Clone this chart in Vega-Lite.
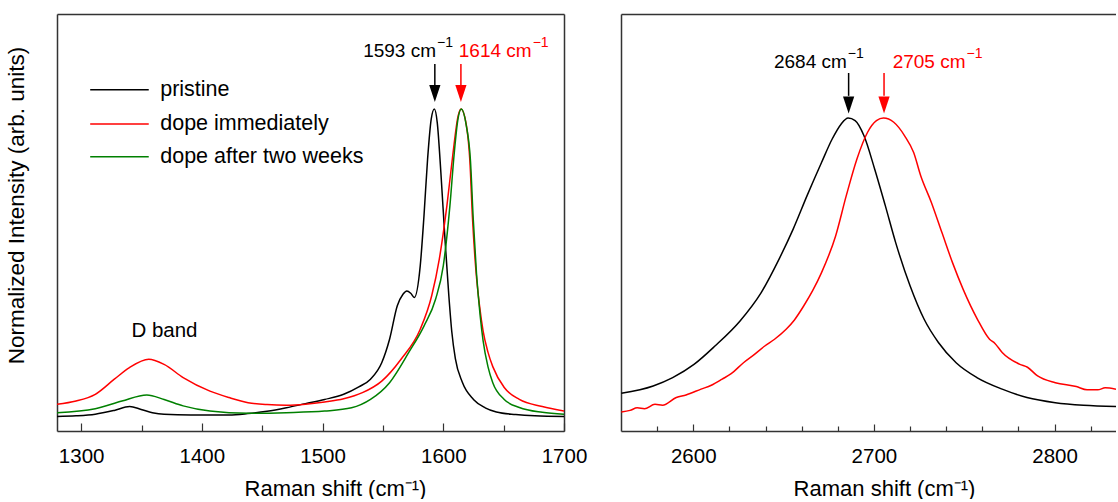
{
  "$schema": "https://vega.github.io/schema/vega-lite/v6.json",
  "padding": {"left": 5, "top": 14, "right": 0, "bottom": 0},
  "bounds": "flush",
  "spacing": 57,
  "config": {
    "font": "Liberation Sans",
    "view": {"stroke": null},
    "axis": {"grid": false, "domainColor": "#333", "domainWidth": 1.5, "tickColor": "#333", "tickWidth": 1.2, "labelColor": "#000", "titleColor": "#000", "labelFont": "Liberation Sans", "titleFont": "Liberation Sans", "titleFontWeight": "normal"}
  },
  "datasets": {
    "spectra": [
      {"panel":"G","series":"pristine","x":1280,"y":0.045},
      {"panel":"G","series":"pristine","x":1295.8,"y":0.047},
      {"panel":"G","series":"pristine","x":1311.7,"y":0.052},
      {"panel":"G","series":"pristine","x":1327.5,"y":0.064},
      {"panel":"G","series":"pristine","x":1340.2,"y":0.076},
      {"panel":"G","series":"pristine","x":1349.7,"y":0.067},
      {"panel":"G","series":"pristine","x":1359,"y":0.057},
      {"panel":"G","series":"pristine","x":1368.7,"y":0.052},
      {"panel":"G","series":"pristine","x":1390.8,"y":0.05},
      {"panel":"G","series":"pristine","x":1422.5,"y":0.05},
      {"panel":"G","series":"pristine","x":1438,"y":0.054},
      {"panel":"G","series":"pristine","x":1454,"y":0.061},
      {"panel":"G","series":"pristine","x":1470,"y":0.072},
      {"panel":"G","series":"pristine","x":1485.8,"y":0.085},
      {"panel":"G","series":"pristine","x":1501.7,"y":0.098},
      {"panel":"G","series":"pristine","x":1517.5,"y":0.114},
      {"panel":"G","series":"pristine","x":1530,"y":0.137},
      {"panel":"G","series":"pristine","x":1539.7,"y":0.161},
      {"panel":"G","series":"pristine","x":1549,"y":0.212},
      {"panel":"G","series":"pristine","x":1555.5,"y":0.285},
      {"panel":"G","series":"pristine","x":1561.9,"y":0.389},
      {"panel":"G","series":"pristine","x":1566.6,"y":0.425},
      {"panel":"G","series":"pristine","x":1569.8,"y":0.435},
      {"panel":"G","series":"pristine","x":1573,"y":0.428},
      {"panel":"G","series":"pristine","x":1576,"y":0.415},
      {"panel":"G","series":"pristine","x":1580.9,"y":0.513},
      {"panel":"G","series":"pristine","x":1584,"y":0.668},
      {"panel":"G","series":"pristine","x":1587,"y":0.845},
      {"panel":"G","series":"pristine","x":1590,"y":0.969},
      {"panel":"G","series":"pristine","x":1592.6,"y":1.0},
      {"panel":"G","series":"pristine","x":1595,"y":0.958},
      {"panel":"G","series":"pristine","x":1598,"y":0.803},
      {"panel":"G","series":"pristine","x":1601.4,"y":0.596},
      {"panel":"G","series":"pristine","x":1604.6,"y":0.42},
      {"panel":"G","series":"pristine","x":1607,"y":0.31},
      {"panel":"G","series":"pristine","x":1610,"y":0.225},
      {"panel":"G","series":"pristine","x":1615.7,"y":0.152},
      {"panel":"G","series":"pristine","x":1625,"y":0.098},
      {"panel":"G","series":"pristine","x":1634.7,"y":0.072},
      {"panel":"G","series":"pristine","x":1644,"y":0.059},
      {"panel":"G","series":"pristine","x":1660,"y":0.051},
      {"panel":"G","series":"pristine","x":1675.9,"y":0.047},
      {"panel":"G","series":"pristine","x":1700,"y":0.045},

      {"panel":"G","series":"dope immediately","x":1280,"y":0.083},
      {"panel":"G","series":"dope immediately","x":1295.8,"y":0.093},
      {"panel":"G","series":"dope immediately","x":1311.7,"y":0.114},
      {"panel":"G","series":"dope immediately","x":1327.5,"y":0.161},
      {"panel":"G","series":"dope immediately","x":1340,"y":0.197},
      {"panel":"G","series":"dope immediately","x":1356,"y":0.223},
      {"panel":"G","series":"dope immediately","x":1368.7,"y":0.207},
      {"panel":"G","series":"dope immediately","x":1384.5,"y":0.166},
      {"panel":"G","series":"dope immediately","x":1406.7,"y":0.124},
      {"panel":"G","series":"dope immediately","x":1422.5,"y":0.104},
      {"panel":"G","series":"dope immediately","x":1438.3,"y":0.088},
      {"panel":"G","series":"dope immediately","x":1454,"y":0.082},
      {"panel":"G","series":"dope immediately","x":1470,"y":0.08},
      {"panel":"G","series":"dope immediately","x":1485.8,"y":0.083},
      {"panel":"G","series":"dope immediately","x":1501.7,"y":0.09},
      {"panel":"G","series":"dope immediately","x":1517.5,"y":0.1},
      {"panel":"G","series":"dope immediately","x":1533,"y":0.119},
      {"panel":"G","series":"dope immediately","x":1549,"y":0.155},
      {"panel":"G","series":"dope immediately","x":1565,"y":0.223},
      {"panel":"G","series":"dope immediately","x":1580.9,"y":0.316},
      {"panel":"G","series":"dope immediately","x":1590.4,"y":0.42},
      {"panel":"G","series":"dope immediately","x":1596.7,"y":0.534},
      {"panel":"G","series":"dope immediately","x":1603,"y":0.70},
      {"panel":"G","series":"dope immediately","x":1607.8,"y":0.855},
      {"panel":"G","series":"dope immediately","x":1612.3,"y":0.979},
      {"panel":"G","series":"dope immediately","x":1614.7,"y":1.0},
      {"panel":"G","series":"dope immediately","x":1618.9,"y":0.955},
      {"panel":"G","series":"dope immediately","x":1622,"y":0.84},
      {"panel":"G","series":"dope immediately","x":1624.2,"y":0.66},
      {"panel":"G","series":"dope immediately","x":1627,"y":0.5},
      {"panel":"G","series":"dope immediately","x":1630,"y":0.39},
      {"panel":"G","series":"dope immediately","x":1633,"y":0.31},
      {"panel":"G","series":"dope immediately","x":1637,"y":0.245},
      {"panel":"G","series":"dope immediately","x":1641,"y":0.2},
      {"panel":"G","series":"dope immediately","x":1650.5,"y":0.135},
      {"panel":"G","series":"dope immediately","x":1663,"y":0.098},
      {"panel":"G","series":"dope immediately","x":1682,"y":0.076},
      {"panel":"G","series":"dope immediately","x":1700,"y":0.062},

      {"panel":"G","series":"dope after two weeks","x":1280,"y":0.057},
      {"panel":"G","series":"dope after two weeks","x":1311.7,"y":0.069},
      {"panel":"G","series":"dope after two weeks","x":1333.8,"y":0.093},
      {"panel":"G","series":"dope after two weeks","x":1354.4,"y":0.112},
      {"panel":"G","series":"dope after two weeks","x":1368.7,"y":0.098},
      {"panel":"G","series":"dope after two weeks","x":1384.5,"y":0.078},
      {"panel":"G","series":"dope after two weeks","x":1406.7,"y":0.062},
      {"panel":"G","series":"dope after two weeks","x":1438.3,"y":0.055},
      {"panel":"G","series":"dope after two weeks","x":1470,"y":0.057},
      {"panel":"G","series":"dope after two weeks","x":1501.7,"y":0.062},
      {"panel":"G","series":"dope after two weeks","x":1524,"y":0.072},
      {"panel":"G","series":"dope after two weeks","x":1539.7,"y":0.098},
      {"panel":"G","series":"dope after two weeks","x":1555.5,"y":0.15},
      {"panel":"G","series":"dope after two weeks","x":1571.4,"y":0.244},
      {"panel":"G","series":"dope after two weeks","x":1584,"y":0.326},
      {"panel":"G","series":"dope after two weeks","x":1593.6,"y":0.409},
      {"panel":"G","series":"dope after two weeks","x":1600,"y":0.513},
      {"panel":"G","series":"dope after two weeks","x":1605.5,"y":0.70},
      {"panel":"G","series":"dope after two weeks","x":1609,"y":0.86},
      {"panel":"G","series":"dope after two weeks","x":1612,"y":0.965},
      {"panel":"G","series":"dope after two weeks","x":1614.9,"y":1.0},
      {"panel":"G","series":"dope after two weeks","x":1619,"y":0.95},
      {"panel":"G","series":"dope after two weeks","x":1622.5,"y":0.84},
      {"panel":"G","series":"dope after two weeks","x":1624.8,"y":0.66},
      {"panel":"G","series":"dope after two weeks","x":1627.5,"y":0.49},
      {"panel":"G","series":"dope after two weeks","x":1630.5,"y":0.36},
      {"panel":"G","series":"dope after two weeks","x":1633,"y":0.28},
      {"panel":"G","series":"dope after two weeks","x":1637,"y":0.2},
      {"panel":"G","series":"dope after two weeks","x":1641,"y":0.15},
      {"panel":"G","series":"dope after two weeks","x":1650.5,"y":0.098},
      {"panel":"G","series":"dope after two weeks","x":1663,"y":0.073},
      {"panel":"G","series":"dope after two weeks","x":1682,"y":0.058},
      {"panel":"G","series":"dope after two weeks","x":1700,"y":0.052},

      {"panel":"2D","series":"pristine","x":2560.2,"y":0.117},
      {"panel":"2D","series":"pristine","x":2577.8,"y":0.14},
      {"panel":"2D","series":"pristine","x":2588.6,"y":0.166},
      {"panel":"2D","series":"pristine","x":2600.4,"y":0.207},
      {"panel":"2D","series":"pristine","x":2612,"y":0.264},
      {"panel":"2D","series":"pristine","x":2625.9,"y":0.342},
      {"panel":"2D","series":"pristine","x":2637.6,"y":0.43},
      {"panel":"2D","series":"pristine","x":2647.5,"y":0.534},
      {"panel":"2D","series":"pristine","x":2655.3,"y":0.627},
      {"panel":"2D","series":"pristine","x":2663,"y":0.731},
      {"panel":"2D","series":"pristine","x":2671,"y":0.834},
      {"panel":"2D","series":"pristine","x":2676.9,"y":0.907},
      {"panel":"2D","series":"pristine","x":2681.8,"y":0.953},
      {"panel":"2D","series":"pristine","x":2685.7,"y":0.972},
      {"panel":"2D","series":"pristine","x":2689.6,"y":0.964},
      {"panel":"2D","series":"pristine","x":2694.5,"y":0.917},
      {"panel":"2D","series":"pristine","x":2700.4,"y":0.814},
      {"panel":"2D","series":"pristine","x":2706.3,"y":0.70},
      {"panel":"2D","series":"pristine","x":2712,"y":0.586},
      {"panel":"2D","series":"pristine","x":2720,"y":0.451},
      {"panel":"2D","series":"pristine","x":2727.8,"y":0.347},
      {"panel":"2D","series":"pristine","x":2735.7,"y":0.275},
      {"panel":"2D","series":"pristine","x":2745.5,"y":0.212},
      {"panel":"2D","series":"pristine","x":2757,"y":0.166},
      {"panel":"2D","series":"pristine","x":2771,"y":0.13},
      {"panel":"2D","series":"pristine","x":2784.7,"y":0.104},
      {"panel":"2D","series":"pristine","x":2800.4,"y":0.088},
      {"panel":"2D","series":"pristine","x":2816,"y":0.08},
      {"panel":"2D","series":"pristine","x":2834,"y":0.076},

      {"panel":"2D","series":"dope immediately","x":2560.2,"y":0.059},
      {"panel":"2D","series":"dope immediately","x":2565,"y":0.064},
      {"panel":"2D","series":"dope immediately","x":2569,"y":0.072},
      {"panel":"2D","series":"dope immediately","x":2573,"y":0.069},
      {"panel":"2D","series":"dope immediately","x":2578.8,"y":0.083},
      {"panel":"2D","series":"dope immediately","x":2583,"y":0.08},
      {"panel":"2D","series":"dope immediately","x":2590.6,"y":0.104},
      {"panel":"2D","series":"dope immediately","x":2596,"y":0.112},
      {"panel":"2D","series":"dope immediately","x":2604.3,"y":0.13},
      {"panel":"2D","series":"dope immediately","x":2610,"y":0.142},
      {"panel":"2D","series":"dope immediately","x":2616,"y":0.161},
      {"panel":"2D","series":"dope immediately","x":2621,"y":0.178},
      {"panel":"2D","series":"dope immediately","x":2627.8,"y":0.212},
      {"panel":"2D","series":"dope immediately","x":2633,"y":0.234},
      {"panel":"2D","series":"dope immediately","x":2639.6,"y":0.264},
      {"panel":"2D","series":"dope immediately","x":2645,"y":0.285},
      {"panel":"2D","series":"dope immediately","x":2651.4,"y":0.316},
      {"panel":"2D","series":"dope immediately","x":2656,"y":0.345},
      {"panel":"2D","series":"dope immediately","x":2661.2,"y":0.389},
      {"panel":"2D","series":"dope immediately","x":2666,"y":0.435},
      {"panel":"2D","series":"dope immediately","x":2671,"y":0.492},
      {"panel":"2D","series":"dope immediately","x":2678.8,"y":0.606},
      {"panel":"2D","series":"dope immediately","x":2684.7,"y":0.731},
      {"panel":"2D","series":"dope immediately","x":2690.6,"y":0.845},
      {"panel":"2D","series":"dope immediately","x":2696.5,"y":0.928},
      {"panel":"2D","series":"dope immediately","x":2701.4,"y":0.964},
      {"panel":"2D","series":"dope immediately","x":2705.3,"y":0.972},
      {"panel":"2D","series":"dope immediately","x":2711,"y":0.959},
      {"panel":"2D","series":"dope immediately","x":2717,"y":0.917},
      {"panel":"2D","series":"dope immediately","x":2722,"y":0.865},
      {"panel":"2D","series":"dope immediately","x":2725.9,"y":0.793},
      {"panel":"2D","series":"dope immediately","x":2731.8,"y":0.71},
      {"panel":"2D","series":"dope immediately","x":2737.6,"y":0.617},
      {"panel":"2D","series":"dope immediately","x":2743.5,"y":0.523},
      {"panel":"2D","series":"dope immediately","x":2749.4,"y":0.44},
      {"panel":"2D","series":"dope immediately","x":2757.3,"y":0.347},
      {"panel":"2D","series":"dope immediately","x":2764,"y":0.285},
      {"panel":"2D","series":"dope immediately","x":2767,"y":0.272},
      {"panel":"2D","series":"dope immediately","x":2771,"y":0.244},
      {"panel":"2D","series":"dope immediately","x":2780.8,"y":0.207},
      {"panel":"2D","series":"dope immediately","x":2785,"y":0.198},
      {"panel":"2D","series":"dope immediately","x":2790.6,"y":0.171},
      {"panel":"2D","series":"dope immediately","x":2800.4,"y":0.15},
      {"panel":"2D","series":"dope immediately","x":2812,"y":0.138},
      {"panel":"2D","series":"dope immediately","x":2818,"y":0.128},
      {"panel":"2D","series":"dope immediately","x":2823.9,"y":0.128},
      {"panel":"2D","series":"dope immediately","x":2828,"y":0.134},
      {"panel":"2D","series":"dope immediately","x":2834,"y":0.13}
    ],
    "arrows": [
      {"panel":"G","series":"pristine","x":1593,"y":1.14,"y2":1.075,"head":1.048},
      {"panel":"G","series":"dope immediately","x":1614.6,"y":1.14,"y2":1.075,"head":1.048},
      {"panel":"2D","series":"pristine","x":2686,"y":1.112,"y2":1.041,"head":1.013},
      {"panel":"2D","series":"dope immediately","x":2705.6,"y":1.112,"y2":1.041,"head":1.013}
    ],
    "peaklabels": [
      {"panel":"G","series":"pristine","x":1594,"y":1.163,"text":"1593 cm","sup":"−1"},
      {"panel":"G","series":"dope immediately","x":1673.2,"y":1.163,"text":"1614 cm","sup":"−1"},
      {"panel":"2D","series":"pristine","x":2685,"y":1.128,"text":"2684 cm","sup":"−1"},
      {"panel":"2D","series":"dope immediately","x":2750.7,"y":1.128,"text":"2705 cm","sup":"−1"}
    ],
    "notes": [
      {"x":1369,"y":0.293,"text":"D band"}
    ],
    "legend": [
      {"series":"pristine","x":1307.5,"x2":1356,"tx":1365.5,"y":1.06},
      {"series":"dope immediately","x":1307.5,"x2":1356,"tx":1365.5,"y":0.954},
      {"series":"dope after two weeks","x":1307.5,"x2":1356,"tx":1365.5,"y":0.852}
    ]
  },
  "hconcat": [
    {
      "width": 507,
      "height": 417,
      "layer": [
        {
          "data": {"name": "spectra"},
          "transform": [{"filter": "datum.panel === 'G'"}],
          "mark": {"type": "line", "strokeWidth": 1.5, "interpolate": "monotone", "clip": true},
          "encoding": {
            "x": {"field": "x", "type": "quantitative", "scale": {"domain": [1280, 1700], "nice": false, "zero": false},
              "axis": {"orient": "bottom", "values": [1300,1350,1400,1450,1500,1550,1600,1650,1700], "format": "d",
                "labelExpr": "datum.value % 100 === 0 ? datum.label : ''",
                "tickSize": {"condition": {"test": "datum.value % 100 === 0", "value": -8}, "value": -6},
                "labelFontSize": 20.5, "labelPadding": 23, "labelFlush": false, "labelOverlap": false,
                "title": "Raman shift (cm⁻¹)", "titleFontSize": 22, "titleX": 278, "titleY": 47, "titleBaseline": "top", "titleAlign": "center"}},
            "y": {"field": "y", "type": "quantitative", "scale": {"domain": [0, 1.2953], "nice": false},
              "axis": {"orient": "left", "ticks": false, "labels": false, "title": "Normalized Intensity (arb. units)", "titleFontSize": 22.5, "titleX": -41, "titleY": 191, "titleBaseline": "middle", "titleAlign": "center", "titleAngle": -90}},
            "color": {"field": "series", "type": "nominal", "scale": {"domain": ["pristine", "dope immediately", "dope after two weeks"], "range": ["#000000", "#ff0000", "#008000"]}, "legend": null}
          }
        },
        {
          "data": {"name": "arrows"},
          "transform": [{"filter": "datum.panel === 'G'"}],
          "mark": {"type": "rule", "strokeWidth": 1.5},
          "encoding": {
            "x": {"field": "x", "type": "quantitative", "axis": {"orient": "top", "ticks": false, "labels": false, "title": null}},
            "y": {"field": "y", "type": "quantitative", "axis": {"orient": "right", "ticks": false, "labels": false, "title": null}},
            "y2": {"field": "y2"},
            "color": {"field": "series", "type": "nominal", "legend": null}
          }
        },
        {
          "data": {"name": "arrows"},
          "transform": [{"filter": "datum.panel === 'G'"}],
          "mark": {"type": "point", "shape": "M-0.66,-1L0.66,-1L0,1Z", "size": 289, "filled": true, "opacity": 1, "strokeWidth": 0},
          "encoding": {
            "x": {"field": "x", "type": "quantitative", "axis": null},
            "y": {"field": "head", "type": "quantitative", "axis": null},
            "color": {"field": "series", "type": "nominal", "legend": null}
          }
        },
        {
          "data": {"name": "peaklabels"},
          "transform": [{"filter": "datum.panel === 'G'"}],
          "mark": {"type": "text", "fontSize": 19, "align": "right", "baseline": "alphabetic"},
          "encoding": {
            "x": {"field": "x", "type": "quantitative", "axis": null},
            "y": {"field": "y", "type": "quantitative", "axis": null},
            "text": {"field": "text"},
            "color": {"field": "series", "type": "nominal", "legend": null}
          }
        },
        {
          "data": {"name": "peaklabels"},
          "transform": [{"filter": "datum.panel === 'G'"}],
          "mark": {"type": "text", "fontSize": 14, "align": "left", "baseline": "alphabetic", "dx": 1, "dy": -10},
          "encoding": {
            "x": {"field": "x", "type": "quantitative", "axis": null},
            "y": {"field": "y", "type": "quantitative", "axis": null},
            "text": {"field": "sup"},
            "color": {"field": "series", "type": "nominal", "legend": null}
          }
        },
        {
          "data": {"name": "notes"},
          "mark": {"type": "text", "fontSize": 20.5, "align": "center", "baseline": "alphabetic", "color": "#000000"},
          "encoding": {
            "x": {"field": "x", "type": "quantitative", "axis": null},
            "y": {"field": "y", "type": "quantitative", "axis": null},
            "text": {"field": "text"}
          }
        },
        {
          "data": {"name": "legend"},
          "mark": {"type": "rule", "strokeWidth": 1.5},
          "encoding": {
            "x": {"field": "x", "type": "quantitative", "axis": null},
            "x2": {"field": "x2"},
            "y": {"field": "y", "type": "quantitative", "axis": null},
            "color": {"field": "series", "type": "nominal", "legend": null}
          }
        },
        {
          "data": {"name": "legend"},
          "mark": {"type": "text", "fontSize": 21.5, "align": "left", "baseline": "middle", "color": "#000000"},
          "encoding": {
            "x": {"field": "tx", "type": "quantitative", "axis": null},
            "y": {"field": "y", "type": "quantitative", "axis": null},
            "text": {"field": "series"}
          }
        }
      ],
      "resolve": {"axis": {"x": "independent", "y": "independent"}}
    },
    {
      "width": 495,
      "height": 417,
      "layer": [
        {
          "data": {"name": "spectra"},
          "transform": [{"filter": "datum.panel === '2D'"}],
          "mark": {"type": "line", "strokeWidth": 1.5, "interpolate": "monotone", "clip": true},
          "encoding": {
            "x": {"field": "x", "type": "quantitative", "scale": {"domain": [2560, 2834], "nice": false, "zero": false},
              "axis": {"orient": "bottom", "values": [2580,2600,2620,2640,2660,2680,2700,2720,2740,2760,2780,2800,2820], "format": "d",
                "labelExpr": "datum.value % 100 === 0 ? datum.label : ''",
                "tickSize": {"condition": {"test": "datum.value % 100 === 0", "value": -7}, "value": -5},
                "labelFontSize": 20.5, "labelPadding": 22, "labelFlush": false, "labelOverlap": false,
                "title": "Raman shift (cm⁻¹)", "titleFontSize": 22, "titleX": 263, "titleY": 47, "titleBaseline": "top", "titleAlign": "center"}},
            "y": {"field": "y", "type": "quantitative", "scale": {"domain": [0, 1.2953], "nice": false},
              "axis": {"orient": "left", "ticks": false, "labels": false, "title": null}},
            "color": {"field": "series", "type": "nominal", "scale": {"domain": ["pristine", "dope immediately"], "range": ["#000000", "#ff0000"]}, "legend": null}
          }
        },
        {
          "data": {"name": "arrows"},
          "transform": [{"filter": "datum.panel === '2D'"}],
          "mark": {"type": "rule", "strokeWidth": 1.5},
          "encoding": {
            "x": {"field": "x", "type": "quantitative", "axis": {"orient": "top", "ticks": false, "labels": false, "title": null}},
            "y": {"field": "y", "type": "quantitative", "axis": null},
            "y2": {"field": "y2"},
            "color": {"field": "series", "type": "nominal", "legend": null}
          }
        },
        {
          "data": {"name": "arrows"},
          "transform": [{"filter": "datum.panel === '2D'"}],
          "mark": {"type": "point", "shape": "M-0.66,-1L0.66,-1L0,1Z", "size": 289, "filled": true, "opacity": 1, "strokeWidth": 0},
          "encoding": {
            "x": {"field": "x", "type": "quantitative", "axis": null},
            "y": {"field": "head", "type": "quantitative", "axis": null},
            "color": {"field": "series", "type": "nominal", "legend": null}
          }
        },
        {
          "data": {"name": "peaklabels"},
          "transform": [{"filter": "datum.panel === '2D'"}],
          "mark": {"type": "text", "fontSize": 19, "align": "right", "baseline": "alphabetic"},
          "encoding": {
            "x": {"field": "x", "type": "quantitative", "axis": null},
            "y": {"field": "y", "type": "quantitative", "axis": null},
            "text": {"field": "text"},
            "color": {"field": "series", "type": "nominal", "legend": null}
          }
        },
        {
          "data": {"name": "peaklabels"},
          "transform": [{"filter": "datum.panel === '2D'"}],
          "mark": {"type": "text", "fontSize": 14, "align": "left", "baseline": "alphabetic", "dx": 1, "dy": -10},
          "encoding": {
            "x": {"field": "x", "type": "quantitative", "axis": null},
            "y": {"field": "y", "type": "quantitative", "axis": null},
            "text": {"field": "sup"},
            "color": {"field": "series", "type": "nominal", "legend": null}
          }
        }
      ],
      "resolve": {"axis": {"x": "independent", "y": "independent"}}
    }
  ]
}
